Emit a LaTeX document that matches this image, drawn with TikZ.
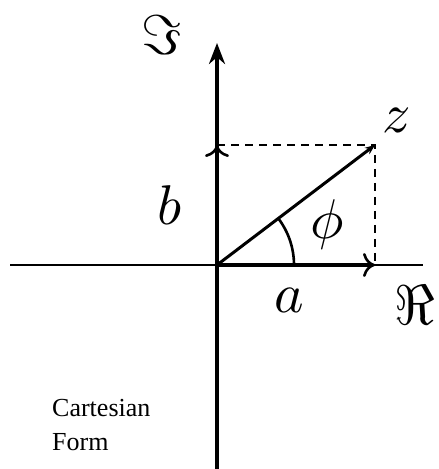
\documentclass[tikz,border=0pt]{standalone}
\usepackage{fontspec}
\setmainfont{Liberation Serif}
\usetikzlibrary{arrows.meta}
\begin{document}
\begin{tikzpicture}[x=1pt,y=1pt,
  mathlbl/.style={inner sep=0pt, scale=5.6},
  barb/.style={-{Computer Modern Rightarrow[length=12pt,width=24pt,line width=2.6pt]}},
  dashline/.style={line width=2.3pt, dash pattern=on 8pt off 6pt}]
\useasboundingbox (0,0) rectangle (439,469);
% points
\coordinate (O) at (217,204);
\coordinate (Vb) at (217,0);
\coordinate (Vt) at (217,426);
\coordinate (Hl) at (10,204);
\coordinate (Hr) at (423,204);
\coordinate (B) at (217,324);
\coordinate (A) at (375,204);
\coordinate (Z) at (375,324);
% axes
\draw[line width=2.6pt] (Hl) -- (Hr);
\draw[line width=3.6pt, -{Stealth[length=21pt,width=16pt]}] (Vb) -- (Vt);
% dashed projections
\draw[dashline] (B) -- (Z) -- (A);
% component vectors
\draw[line width=3.6pt, barb] (O) -- (B);
\draw[line width=4.2pt, barb] (O) -- (A);
% z vector
\draw[line width=3pt, -{Stealth[length=10pt,width=8pt]}] (O) -- (Z);
% angle arc
\draw[line width=2.6pt] (294,204) arc[start angle=0, end angle=37.2, radius=77];
% labels
\node[mathlbl] (im) at (162,434) {$\Im$};
\node[mathlbl] (zl) at (397,349) {$z$};
\node[mathlbl] (bl) at (170,264) {$b$};
\node[mathlbl] (phi) at (327,244) {$\phi$};
\node[mathlbl] (al) at (289,169) {$a$};
\node[mathlbl] (re) at (415,164) {$\Re$};
\node[anchor=base west, inner sep=0pt, font=\fontsize{26}{34}\selectfont] (c1) at (52,52) {Cartesian};
\node[anchor=base west, inner sep=0pt, font=\fontsize{26}{34}\selectfont] (c2) at (52,18) {Form};
\end{tikzpicture}
\end{document}
